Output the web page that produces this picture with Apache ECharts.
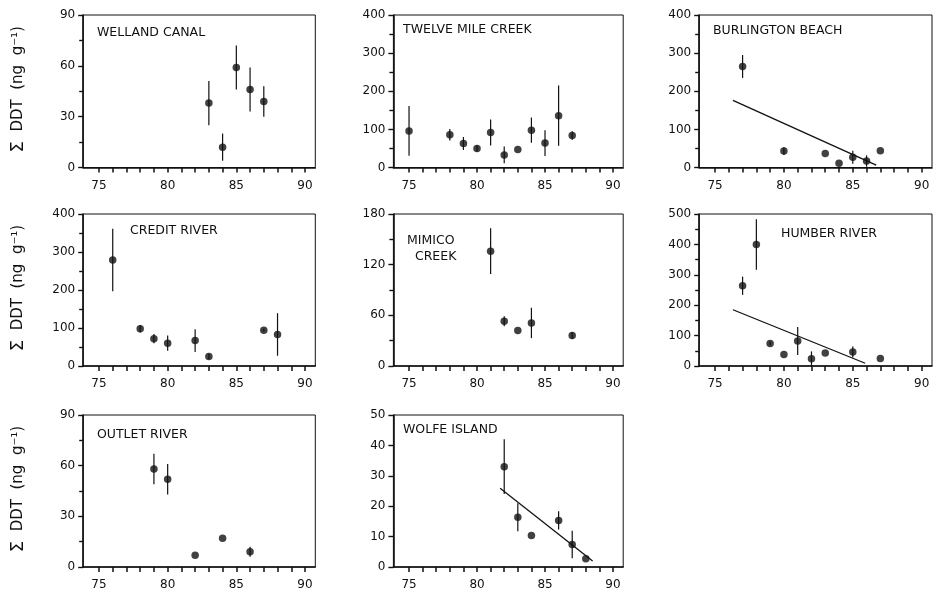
<!DOCTYPE html>
<html>
<head>
<meta charset="utf-8">
<script src="https://cdn.jsdelivr.net/npm/echarts@6/dist/echarts.min.js"></script>
<style>
html, body { margin: 0; padding: 0; background: #fff; }
#chart { width: 933px; height: 592px; }
</style>
</head>
<body>
<div id="chart"></div>
<script>
// Sampling years on every x axis
const yearTicks = [75, 76, 77, 78, 79, 80, 81, 82, 83, 84, 85, 86, 87, 88, 89, 90];
const yearLabels = [75, 80, 85, 90];

// ΣDDT (ng/g): mean and ± error per year, by site
const wellandYears = [83, 84, 85, 86, 87];
const wellandMean  = [38, 12, 59, 46, 39];
const wellandErr   = [13, 8, 13, 13, 9];

const twelveYears = [75, 78, 79, 80, 81, 82, 83, 84, 85, 86, 87];
const twelveMean  = [96, 86, 63, 50, 92, 33, 47, 98, 64, 136, 84];
const twelveErr   = [65, 15, 17, 8, 34, 22, 0, 33, 34, 79, 11];

const burlYears = [77, 80, 83, 84, 85, 86, 87];
const burlMean  = [265, 43, 37, 11, 27, 17, 44];
const burlErr   = [30, 10, 0, 0, 17, 15, 0];
const burlFit   = [[76.3, 176], [86.7, 6]];

const creditYears = [76, 78, 79, 80, 82, 83, 87, 88];
const creditMean  = [279, 98, 72, 60, 67, 25, 94, 83];
const creditErr   = [82, 10, 12, 20, 30, 7, 4, 56];

const mimicoYears = [81, 82, 83, 84, 87];
const mimicoMean  = [136, 53, 42, 51, 36];
const mimicoErr   = [27, 6, 0, 18, 4];

const humberYears = [77, 78, 79, 80, 81, 82, 83, 85, 87];
const humberMean  = [264, 400, 74, 38, 82, 24, 43, 46, 25];
const humberErr   = [30, 83, 6, 0, 46, 24, 0, 18, 0];
const humberFit   = [[76.3, 185], [85.9, 9]];

const outletYears = [79, 80, 82, 84, 86];
const outletMean  = [58, 52, 7, 17, 9];
const outletErr   = [9, 9, 0, 0, 3];

const wolfeYears = [82, 83, 84, 86, 87, 88];
const wolfeMean  = [33, 16.4, 10.4, 15.3, 7.4, 2.7];
const wolfeErr   = [9, 4.6, 0, 3, 4.5, 0];
const wolfeFit   = [[81.7, 25.9], [88.5, 2]];

// Site names, y-axis extents
const siteNames = ['WELLAND CANAL', 'TWELVE MILE CREEK', 'BURLINGTON BEACH', 'CREDIT RIVER',
                   'MIMICO\n  CREEK', 'HUMBER RIVER', 'OUTLET RIVER', 'WOLFE ISLAND'];
const yMax   = [90, 400, 400, 400, 180, 500, 90, 50];
const yStep  = [30, 100, 100, 100, 60, 100, 30, 10];
const yMinor = [true, true, true, true, true, true, true, false];
const yTitle = '{s|Σ}  DDT  (ng  g⁻¹)';

const sites = [
  { years: wellandYears, mean: wellandMean, err: wellandErr, fit: null },
  { years: twelveYears, mean: twelveMean, err: twelveErr, fit: null },
  { years: burlYears, mean: burlMean, err: burlErr, fit: burlFit },
  { years: creditYears, mean: creditMean, err: creditErr, fit: null },
  { years: mimicoYears, mean: mimicoMean, err: mimicoErr, fit: null },
  { years: humberYears, mean: humberMean, err: humberErr, fit: humberFit },
  { years: outletYears, mean: outletMean, err: outletErr, fit: null },
  { years: wolfeYears, mean: wolfeMean, err: wolfeErr, fit: wolfeFit }
];

// Panel layout (3 x 3 grid, last cell empty)
const colLeft  = [83.2, 393.4, 699.2];
const colRight = [315.3, 623.2, 932.0];
const rowTop    = [15, 214, 415];
const rowBottom = [167.5, 366, 567];
const labelPos = [[97, 32], [403, 29], [713, 30], [130, 230], [407, 240], [781, 233], [97, 434], [403, 429]];

const X_MIN = 73.85, X_MAX = 90.75;
const INK = '#111';
const FONT = 'DejaVu Sans';

const grids = [], xAxes = [], yAxes = [], series = [], graphics = [];

sites.forEach((s, i) => {
  const col = i % 3, row = Math.floor(i / 3);
  grids.push({
    left: colLeft[col], top: rowTop[row],
    width: colRight[col] - colLeft[col], height: rowBottom[row] - rowTop[row],
    show: true, borderColor: INK, borderWidth: 1, backgroundColor: 'transparent'
  });
  xAxes.push({
    type: 'value', gridIndex: i, min: X_MIN, max: X_MAX,
    axisLine: { show: true, onZero: false, lineStyle: { color: INK, width: 1.6 } },
    axisTick: { show: true, customValues: yearTicks, length: 5, lineStyle: { color: INK, width: 1.5 } },
    axisLabel: { customValues: yearLabels, margin: 12, color: INK, fontFamily: FONT, fontSize: 12 },
    splitLine: { show: false }
  });
  yAxes.push({
    type: 'value', gridIndex: i, min: 0, max: yMax[i], interval: yStep[i],
    axisLine: { show: true, lineStyle: { color: INK, width: 1.6 } },
    axisTick: { show: true, length: 5, lineStyle: { color: INK, width: 1.4 } },
    minorTick: { show: yMinor[i], splitNumber: 2, length: 4, lineStyle: { color: INK, width: 1.4 } },
    axisLabel: { margin: 8, color: INK, fontFamily: FONT, fontSize: 12 },
    splitLine: { show: false }
  });

  // Error bars
  series.push({
    type: 'custom', xAxisIndex: i, yAxisIndex: i,
    data: s.years.map((y, k) => [y, s.mean[k] - s.err[k], s.mean[k] + s.err[k]]),
    encode: { x: 0, y: [1, 2] },
    renderItem: (params, api) => {
      const lo = api.coord([api.value(0), api.value(1)]);
      const hi = api.coord([api.value(0), api.value(2)]);
      return { type: 'line', shape: { x1: lo[0], y1: lo[1], x2: hi[0], y2: hi[1] },
               style: { stroke: INK, lineWidth: 1.2 } };
    },
    silent: true, z: 2
  });
  // Means
  series.push({
    type: 'scatter', xAxisIndex: i, yAxisIndex: i,
    data: s.years.map((y, k) => [y, s.mean[k]]),
    symbol: 'circle', symbolSize: 7.5, itemStyle: { color: INK }, silent: true, z: 3
  });
  // Regression line
  if (s.fit) {
    series.push({
      type: 'line', xAxisIndex: i, yAxisIndex: i, data: s.fit,
      symbol: 'none', lineStyle: { color: INK, width: 1.3 }, silent: true, z: 2
    });
  }

  graphics.push({
    type: 'text', left: labelPos[i][0], top: labelPos[i][1] - 7,
    style: { text: siteNames[i], fill: INK, font: `12.5px "${FONT}"`, lineHeight: 16 }
  });
});

// Shared y-axis title on the left column
[0, 1, 2].forEach(row => {
  graphics.push({
    type: 'text', x: 18, y: (rowTop[row] + rowBottom[row]) / 2 - 2, rotation: Math.PI / 2,
    style: {
      text: yTitle, fill: INK, font: `15px "${FONT}"`, align: 'center', verticalAlign: 'middle',
      rich: { s: { font: `18px "${FONT}"`, fill: INK } }
    }
  });
});

const chart = echarts.init(document.getElementById('chart'), null, { renderer: 'canvas' });
chart.setOption({
  animation: false,
  backgroundColor: '#fff',
  grid: grids, xAxis: xAxes, yAxis: yAxes, series: series, graphic: graphics
});
</script>
</body>
</html>
